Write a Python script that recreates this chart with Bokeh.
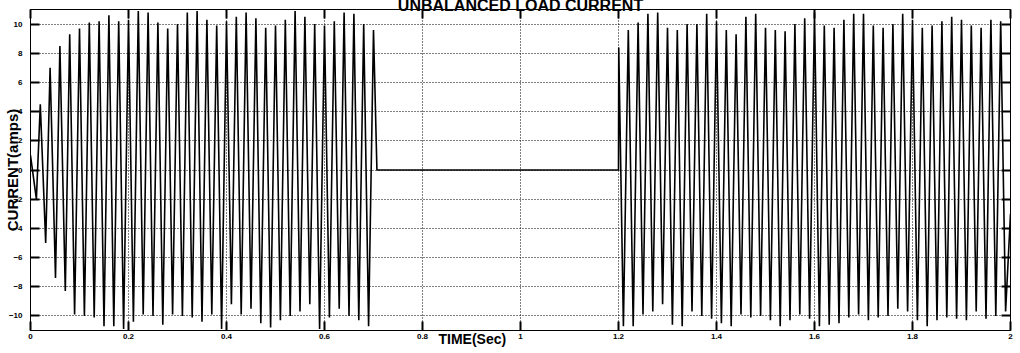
from bokeh.plotting import figure
from bokeh.models import Range1d, LinearAxis, Title, NumeralTickFormatter, ColumnDataSource
from bokeh.embed import file_html
from bokeh.resources import INLINE

# ---- data (current extrema, amps) ----
seg1_t = [0.000, 0.012, 0.020, 0.031, 0.040, 0.051, 0.060, 0.071, 0.080, 0.090,
          0.100, 0.110, 0.120, 0.130, 0.140, 0.150, 0.160, 0.170, 0.180, 0.190,
          0.200, 0.210, 0.220, 0.230, 0.240, 0.250, 0.260, 0.270, 0.280, 0.290,
          0.300, 0.310, 0.320, 0.330, 0.340, 0.350, 0.360, 0.370, 0.380, 0.390,
          0.400, 0.410, 0.420, 0.430, 0.440, 0.450, 0.460, 0.470, 0.480, 0.490,
          0.500, 0.510, 0.520, 0.530, 0.540, 0.550, 0.560, 0.570, 0.580, 0.590,
          0.600, 0.610, 0.620, 0.630, 0.640, 0.650, 0.660, 0.670, 0.680, 0.690,
          0.700, 0.707]
seg1_i = [1.0, -2.0, 4.5, -5.0, 7.0, -7.4, 8.5, -8.3, 9.3, -9.9,
          9.7, -10.0, 10.1, -10.1, 10.2, -10.7, 10.6, -10.7, 10.2, -10.9,
          10.3, -10.4, 10.9, -9.9, 10.8, -10.0, 10.1, -10.6, 9.7, -9.9,
          10.0, -10.0, 10.8, -10.1, 10.9, -10.4, 10.3, -9.9, 9.9, -10.9,
          10.2, -9.2, 10.5, -9.9, 10.8, -9.5, 10.4, -10.5, 9.75, -10.8,
          9.9, -10.3, 10.3, -10.0, 10.9, -9.7, 10.5, -9.2, 10.0, -10.9,
          9.9, -10.1, 10.2, -9.5, 10.8, -10.0, 10.7, -10.3, 10.0, -10.7,
          9.6, 0.0]

off_t = [0.707, 1.200]
off_i = [0.0, 0.0]

seg2_t = [1.200, 1.2005, 1.210, 1.220, 1.230, 1.240, 1.250, 1.260, 1.270, 1.280,
          1.290, 1.300, 1.310, 1.320, 1.330, 1.340, 1.350, 1.360, 1.370, 1.380,
          1.390, 1.400, 1.410, 1.420, 1.430, 1.440, 1.450, 1.460, 1.470, 1.480,
          1.490, 1.500, 1.510, 1.520, 1.530, 1.540, 1.550, 1.560, 1.570, 1.580,
          1.590, 1.600, 1.610, 1.620, 1.630, 1.640, 1.650, 1.660, 1.670, 1.680,
          1.690, 1.700, 1.710, 1.720, 1.730, 1.740, 1.750, 1.760, 1.770, 1.780,
          1.790, 1.800, 1.810, 1.820, 1.830, 1.840, 1.850, 1.860, 1.870, 1.880,
          1.890, 1.900, 1.910, 1.920, 1.930, 1.940, 1.950, 1.960, 1.970, 1.980,
          1.990, 2.000]
seg2_i = [0.0, 8.4, -10.7, 9.6, -10.7, 10.1, -9.9, 10.7, -9.7, 10.8,
          -9.2, 9.75, -10.6, 9.6, -10.7, 10.0, -9.7, 10.0, -10.0, 10.7,
          -10.2, 10.2, -10.5, 9.6, -10.7, 9.3, -9.9, 10.5, -10.1, 10.7,
          -10.0, 9.75, -10.3, 9.6, -10.7, 9.5, -10.3, 10.0, -9.9, 10.4,
          -10.2, 10.8, -10.7, 9.9, -10.6, 9.75, -10.5, 10.3, -10.1, 10.7,
          -9.9, 10.7, -10.3, 9.9, -10.1, 9.75, -10.0, 10.0, -9.5, 10.7,
          -9.7, 10.3, -10.3, 9.75, -10.7, 9.9, -10.3, 10.2, -10.1, 10.5,
          -10.2, 10.3, -10.3, 9.9, -9.7, 9.75, -10.2, 10.3, -10.0, 10.2,
          -9.7, -3.0]

x_ticks = [0, 0.2, 0.4, 0.6, 0.8, 1.0, 1.2, 1.4, 1.6, 1.8, 2.0]
y_ticks = [-10, -8, -6, -4, -2, 0, 2, 4, 6, 8, 10]

title_text = "UNBALANCED LOAD CURRENT"
x_label = "TIME(Sec)"
y_label = "CURRENT(amps)"

FONT = "Liberation Sans"

t = seg1_t + off_t + seg2_t
cur = seg1_i + off_i + seg2_i
src = ColumnDataSource(data=dict(t=t, i=cur))

p = figure(width=1020, height=353, output_backend="svg", toolbar_location=None,
           x_range=Range1d(0, 2), y_range=Range1d(-11, 11),
           min_border_left=30, min_border_right=10, min_border_top=9, min_border_bottom=23)
p.background_fill_color = "white"
p.border_fill_color = "white"
p.outline_line_color = "black"
p.outline_line_width = 1
p.outline_line_alpha = 1

p.xaxis.ticker = x_ticks
p.yaxis.ticker = y_ticks
p.xaxis.formatter = NumeralTickFormatter(format="0.[0]")


def style(ax, show_labels=True, standoff=3):
    ax.major_tick_in = 9
    ax.major_tick_out = 0
    ax.major_tick_line_width = 2
    ax.major_tick_line_color = "black"
    ax.minor_tick_line_color = None
    ax.axis_line_color = "black"
    ax.axis_line_width = 1
    ax.major_label_text_font = FONT
    ax.major_label_text_font_style = "bold"
    ax.major_label_standoff = standoff
    if show_labels:
        ax.major_label_text_color = "black"
        ax.major_label_text_font_size = "8px"
    else:
        ax.major_label_text_color = None
        ax.major_label_text_font_size = "1px"


style(p.xaxis[0], True, 3)
style(p.yaxis[0], True, 8)

yax = p.yaxis[0]
yax.axis_label = y_label
yax.axis_label_standoff = -15
yax.axis_label_text_font = FONT
yax.axis_label_text_font_style = "bold"
yax.axis_label_text_font_size = "15px"
yax.axis_label_text_color = "black"

right_ax = LinearAxis(ticker=y_ticks)
style(right_ax, False, 0)
p.add_layout(right_ax, "right")
top_ax = LinearAxis(ticker=x_ticks)
style(top_ax, False, 0)
p.add_layout(top_ax, "above")

main_title = Title(text=title_text, align="center", vertical_align="top", standoff=-12,
                   text_font=FONT, text_font_style="bold", text_font_size="16px",
                   text_color="black")
p.add_layout(main_title, "above")

for g in (p.xgrid[0], p.ygrid[0]):
    g.grid_line_color = "black"
    g.grid_line_dash = "1 2"
    g.grid_line_width = 1
    g.grid_line_alpha = 1.0

p.line("t", "i", source=src, line_color="black", line_width=1.6)

x_title = Title(text=x_label, align="left", offset=408, vertical_align="top", standoff=-22,
                text_font=FONT, text_font_style="bold", text_font_size="14px",
                text_color="black")
p.add_layout(x_title, "below")

open("out.html", "w").write(file_html(p, INLINE))
